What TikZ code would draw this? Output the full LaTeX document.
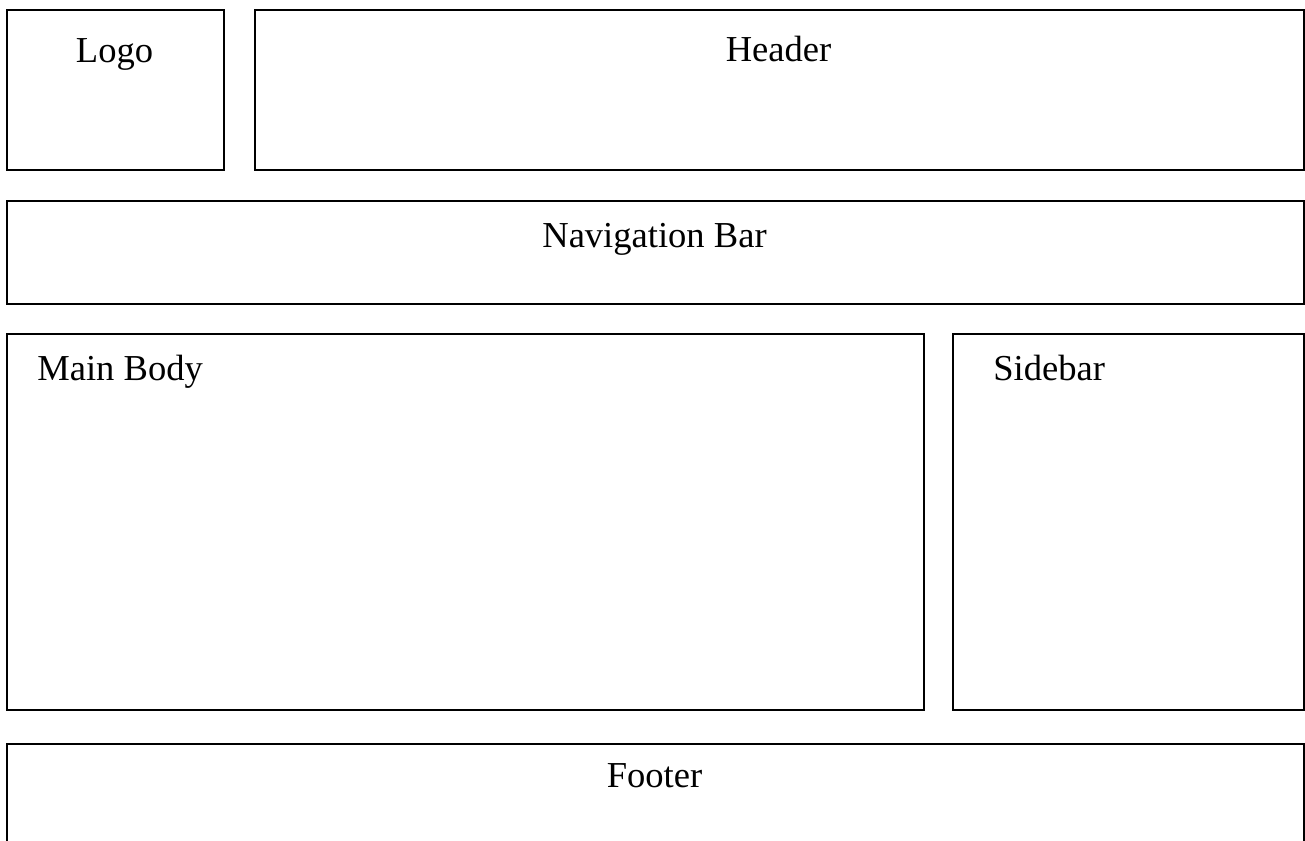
\documentclass[tikz,border=0pt]{standalone}
\usepackage{fontspec}
\setmainfont{Liberation Serif}
\usetikzlibrary{positioning}

\begin{document}
\begin{tikzpicture}[x=0.02cm,y=-0.02cm,
              box/.style={draw,line width=1.1pt,inner sep=0pt,anchor=north west},
              title/.style={font=\fontsize{20.8}{24}\selectfont,inner sep=0pt,anchor=base}]
              \useasboundingbox (0,0) rectangle (1305,841);
              \node[box,minimum width=4.34cm,minimum height=3.2cm] (logo) at (6,9) {};
              \node[box,minimum width=20.98cm,minimum height=3.2cm] (header) at (254,9) {};
              \node[box,minimum width=25.94cm,minimum height=2.06cm] (navbar) at (6,200) {};
              \node[box,minimum width=18.34cm,minimum height=7.52cm] (mainbody) at (6,333) {};
              \node[box,minimum width=7.02cm,minimum height=7.52cm] (sidebar) at (952,333) {};
              \node[box,minimum width=25.94cm,minimum height=2.6cm] (footer) at (6,743) {};
              \node[title] (logotext) at (114.5,63) {Logo};
              \node[title] (headertext) at (778.5,62) {Header};
              \node[title] (navtext) at (654.5,248) {Navigation Bar};
              \node[title,anchor=base west] (maintext) at (37,380) {Main Body};
              \node[title,anchor=base west] (sidetext) at (993,380) {Sidebar};
              \node[title] (footertext) at (654.5,787) {Footer};
            \end{tikzpicture}
\end{document}
